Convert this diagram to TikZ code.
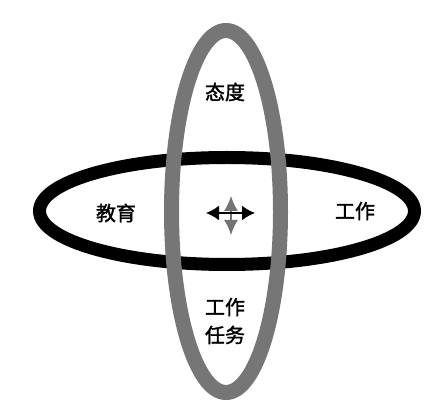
\documentclass[tikz,border=0pt]{standalone}
\usepackage{fontspec}
\newfontfamily\cjk[FakeBold=1.6]{Noto Sans CJK SC}
\usetikzlibrary{arrows.meta}
\definecolor{ringgray}{RGB}{118,118,118}
\definecolor{arrowgray}{RGB}{115,115,115}
\tikzset{
  lbl/.style={font=\cjk\fontsize{20}{28}\selectfont, inner sep=0pt, align=center, text=black},
  blackring/.style={draw=black, line width=13pt},
  grayring/.style={draw=ringgray, line width=15pt},
  harrow/.style={draw=black, line width=1.8pt, {Latex[length=13pt,width=15pt]}-{Latex[length=13pt,width=15pt]}},
  varrow/.style={draw=arrowgray, line width=1.6pt, {Latex[length=15pt,width=14pt]}-{Latex[length=15pt,width=14pt]}}
}
\begin{document}
\begin{tikzpicture}[x=1pt,y=-1pt]
\useasboundingbox (0,0) rectangle (436,411);
\fill[white] (0,0) rectangle (436,411);
% rings
\coordinate (hc) at (227,211);
\coordinate (vc) at (226,211.5);
\draw[blackring] (hc) ellipse [x radius=187.5pt, y radius=53.5pt];
\draw[grayring] (vc) ellipse [x radius=54.5pt, y radius=181pt];
% arrows
\coordinate (vt) at (231,196);
\coordinate (vb) at (231,235);
\coordinate (hl) at (206,213);
\coordinate (hr) at (255,213);
\draw[varrow] (vt) -- (vb);
\draw[harrow] (hl) -- (hr);
% labels
\node[lbl] (taidu) at (225,92) {态度};
\node[lbl] (jiaoyu) at (116,213) {教育};
\node[lbl] (gongzuo) at (355,211) {工作};
\node[lbl] (renwu) at (225,321) {工作\\任务};
\end{tikzpicture}
\end{document}
